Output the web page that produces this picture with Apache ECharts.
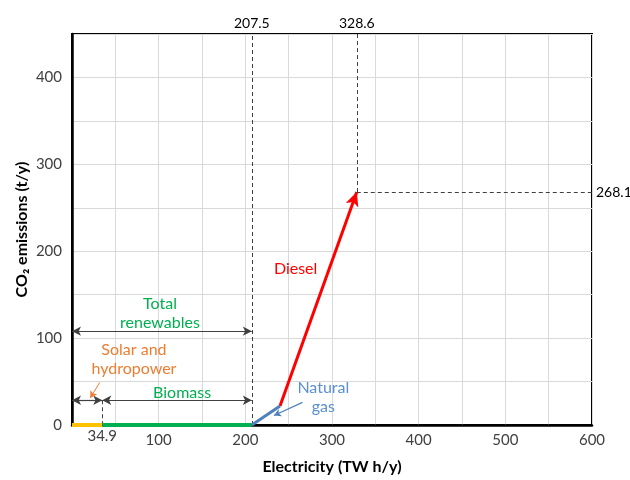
<!DOCTYPE html>
<html><head><meta charset="utf-8">
<script src="https://cdn.jsdelivr.net/npm/echarts@6/dist/echarts.min.js"></script>
<style>html,body{margin:0;padding:0;background:#fff}#c{width:630px;height:480px}</style>
</head><body><div id="c"></div>
<script>
// ---- data ----
const solarHydro = [[0, 0], [34.9, 0]];
const biomass = [[34.9, 0], [207.5, 0]];
const naturalGas = [[207.5, 0], [240, 22]];
const diesel = [[240, 22], [328.6, 268.1]];
const renewEnd = 207.5;
const solarEnd = 34.9;
const totalX = 328.6;
const totalY = 268.1;
const xTickLabels = [100, 200, 300, 400, 500, 600];
const yTickLabels = [0, 100, 200, 300, 400];
const totalRenewArrowY = 108;
const biomassArrowY = 28.5;
// annotation texts [x, y, text]
const notes = [
  [101.5, 128, 'Total\nrenewables', '#00b050'],
  [71.5, 75, 'Solar and\nhydropower', '#ed7d31'],
  [127, 36.5, 'Biomass', '#00b050'],
  [290, 32, 'Natural\ngas', '#5b8fd0'],
  [258, 180, 'Diesel', '#ff0000']
];
const solarPointer = [[32, 49], [21, 31]];
const gasPointer = [[266, 26], [233, 11]];

const FONT = 'Lato, "Open Sans", sans-serif';
const dash = {type: [4, 3], color: '#404040', width: 1};
const dimLine = {type: 'solid', color: '#404040', width: 1.2};

function ml(pairs, opts) {
  return Object.assign({
    silent: true, animation: false,
    data: pairs.map(p => [{coord: p[0]}, {coord: p[1]}])
  }, opts);
}

const chart = echarts.init(document.getElementById('c'));
chart.setOption({
  animation: false,
  textStyle: {fontFamily: FONT},
  grid: {left: 72, right: 38, top: 34, bottom: 52, show: true, borderColor: '#000', borderWidth: 2},
  xAxis: {
    type: 'value', min: 0, max: 600, interval: 50,
    name: 'Electricity (TW h/y)', nameLocation: 'middle', nameGap: 34,
    nameTextStyle: {fontFamily: FONT, fontWeight: 'bold', fontSize: 16, color: '#000'},
    axisLine: {lineStyle: {color: '#000', width: 2.5}},
    axisTick: {show: false},
    axisLabel: {fontFamily: FONT, fontSize: 15, color: '#404040', margin: 8,
      formatter: v => xTickLabels.includes(v) ? String(v) : ''},
    splitLine: {lineStyle: {color: '#d9d9d9', width: 1}}
  },
  yAxis: {
    type: 'value', min: 0, max: 450, interval: 50,
    name: 'CO₂ emissions (t/y)', nameLocation: 'middle', nameGap: 42, nameMoveOverlap: false,
    nameTextStyle: {fontFamily: FONT, fontWeight: 'bold', fontSize: 16, color: '#000'},
    axisLine: {show: true, lineStyle: {color: '#000', width: 2.5}},
    axisTick: {show: false},
    axisLabel: {fontFamily: FONT, fontSize: 15, color: '#404040', margin: 10,
      formatter: v => yTickLabels.includes(v) ? String(v) : ''},
    splitLine: {lineStyle: {color: '#d9d9d9', width: 1}}
  },
  series: [
    {type: 'line', data: solarHydro, symbol: 'none', lineStyle: {color: '#ffc000', width: 4}, z: 5},
    {type: 'line', data: biomass, symbol: 'none', lineStyle: {color: '#00b050', width: 4}, z: 5},
    {type: 'line', data: naturalGas, symbol: 'none', lineStyle: {color: '#4f81bd', width: 3}, z: 5},
    {type: 'line', data: [], markLine: ml([diesel], {
      symbol: ['none', 'arrow'], symbolSize: [10, 14],
      lineStyle: {color: '#ff0000', width: 3, type: 'solid'}, label: {show: false}})},
    // dashed reference lines with value labels
    {type: 'line', data: [], markLine: {silent: true, symbol: 'none', lineStyle: dash,
      label: {fontFamily: FONT, fontSize: 14, color: '#000', distance: 4},
      data: [
        [{coord: [renewEnd, 0]}, {coord: [renewEnd, 450], label: {formatter: String(renewEnd), position: 'end'}}],
        [{coord: [totalX, totalY]}, {coord: [totalX, 450], label: {formatter: String(totalX), position: 'end'}}],
        [{coord: [totalX, totalY]}, {coord: [600, totalY], label: {formatter: String(totalY), position: 'end'}}],
        [{coord: [solarEnd, biomassArrowY]}, {coord: [solarEnd, 0], label: {formatter: String(solarEnd), position: 'end', fontSize: 15, color: '#404040'}}]
      ]}},
    // dimension arrows
    {type: 'line', data: [], markLine: ml([
        [[0, totalRenewArrowY], [renewEnd, totalRenewArrowY]],
        [[0, biomassArrowY], [solarEnd, biomassArrowY]],
        [[solarEnd, biomassArrowY], [renewEnd, biomassArrowY]]
      ], {symbol: ['arrow', 'arrow'], symbolSize: [7, 9], lineStyle: dimLine, label: {show: false}})},
    // curved pointers
    {type: 'line', data: [], markLine: ml([solarPointer], {symbol: ['none', 'arrow'], symbolSize: [6, 7],
      lineStyle: {color: '#ed7d31', width: 1, type: 'solid', curveness: -0.3}, label: {show: false}})},
    {type: 'line', data: [], markLine: ml([gasPointer], {symbol: ['none', 'arrow'], symbolSize: [6, 7],
      lineStyle: {color: '#4f81bd', width: 1.2, type: 'solid', curveness: 0.3}, label: {show: false}})},
    // texts
    {type: 'line', data: [], markPoint: {silent: true, symbol: 'circle', symbolSize: 0,
      data: notes.map(n => ({coord: [n[0], n[1]], label: {show: true, position: 'inside', formatter: n[2],
        color: n[3], fontFamily: FONT, fontSize: 16, lineHeight: 19, align: 'center'}}))}}
  ]
});
</script></body></html>
